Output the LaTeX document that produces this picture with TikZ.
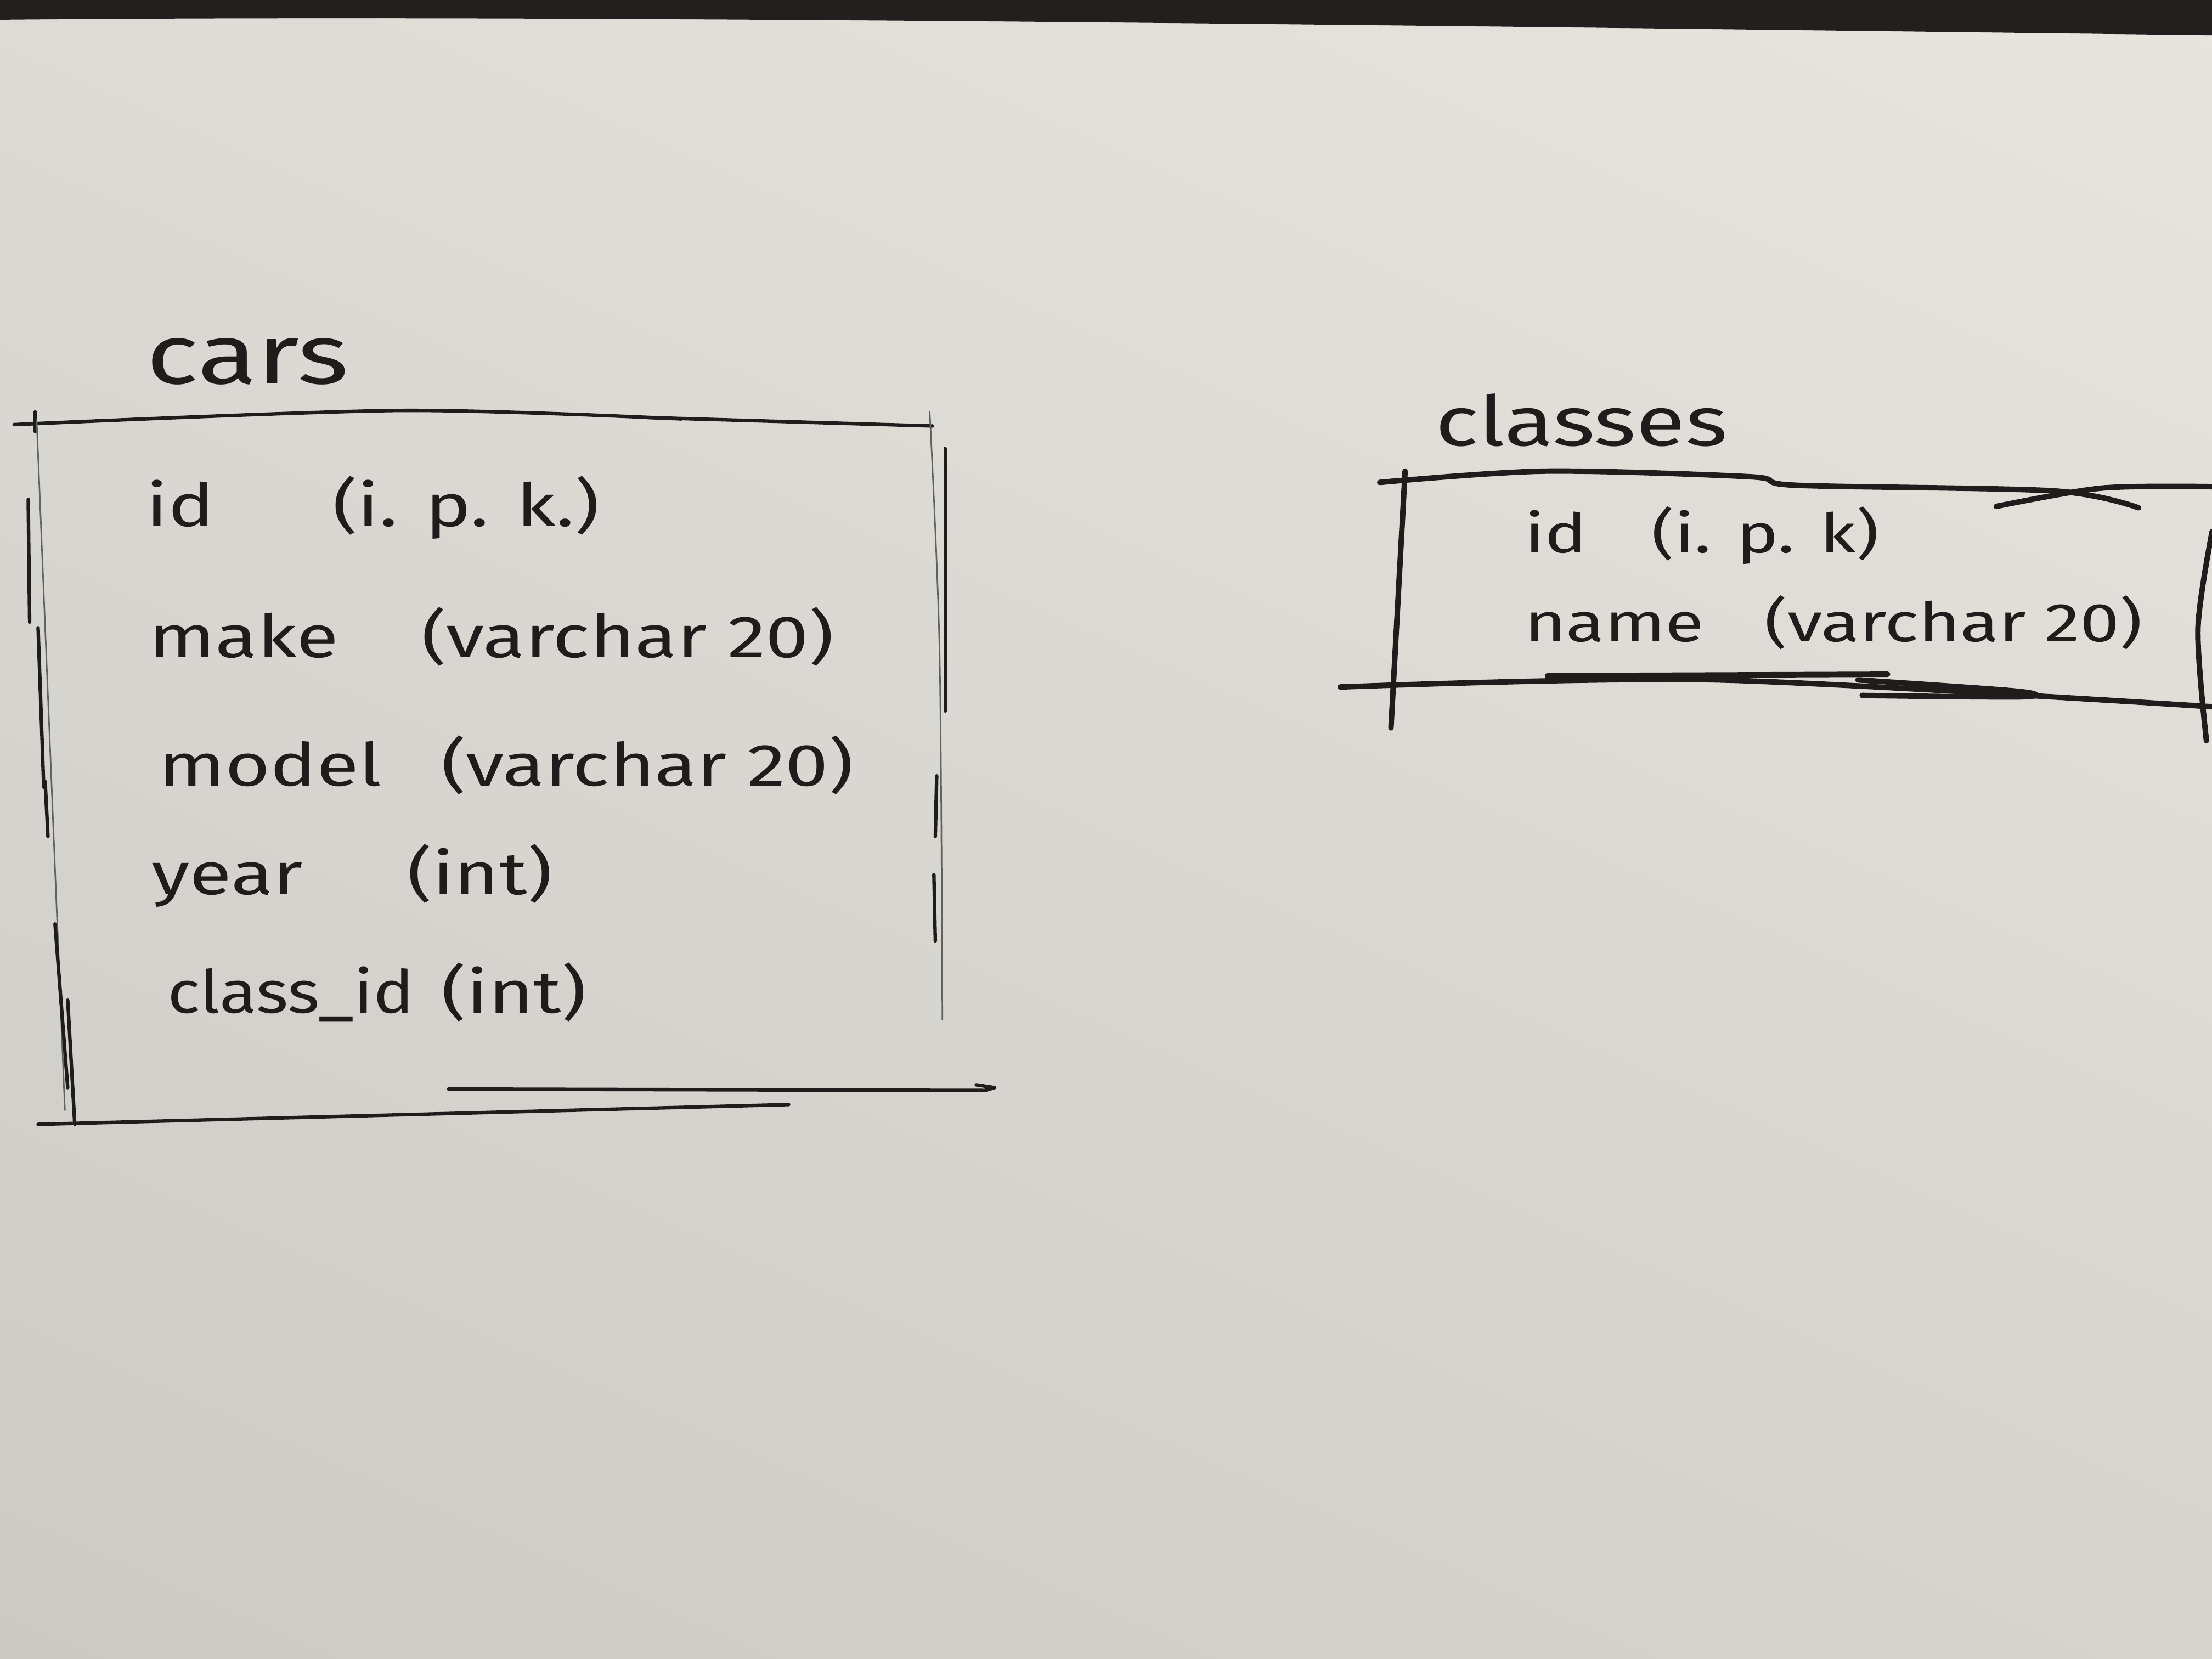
\documentclass[tikz,border=0pt]{standalone}
\usepackage{fontspec}
\newfontfamily\handfont{Fira Sans}[FakeStretch=1.3]
\usetikzlibrary{positioning, shadings}
\definecolor{ink}{RGB}{30,29,28}
\definecolor{paperA}{RGB}{221,219,213}
\definecolor{paperB}{RGB}{231,229,222}
\definecolor{paperC}{RGB}{204,202,196}
\definecolor{paperD}{RGB}{214,212,206}
\definecolor{desk}{RGB}{34,32,31}

\begin{document}
\begin{tikzpicture}[
  title/.style={inner sep=0pt, anchor=base west, text=ink, font=\handfont\fontsize{17}{20}\selectfont},
  field/.style={inner sep=0pt, anchor=base west, text=ink, font=\handfont\fontsize{12}{14}\selectfont},
  smallfield/.style={field, font=\handfont\fontsize{11}{13}\selectfont},
  pen/.style={draw=ink, line width=0.7pt, line cap=round, line join=round},
  faint/.style={draw=ink!70, line width=0.3pt, line cap=round},
  heavy/.style={draw=ink, line width=1.1pt, line cap=round, line join=round}
]
\useasboundingbox (0,0) rectangle (15.68,11.76);
\shade[upper left=paperA, upper right=paperB, lower left=paperC, lower right=paperD]
  (0,0) rectangle (15.68,11.76);
\fill[desk] (0,11.76) -- (15.68,11.76) -- (15.68,11.51)
  .. controls (10,11.58) and (4,11.66) .. (0,11.62) -- cycle;

\node[title] (cars) at (1.03,9.04) {cars};
\node[field] (carsid) at (1.03,8.03) {id};
\node[field] (carsidtype) at ([xshift=13.2mm]carsid.base west) {(i. p. k.)};
\node[field] (make) at (1.05,7.10) {make};
\node[field] (maketype) at ([xshift=19.3mm]make.base west) {(varchar 20)};
\node[field] (model) at (1.12,6.19) {model};
\node[field] (modeltype) at ([xshift=20mm]model.base west) {(varchar 20)};
\node[field] (year) at (1.07,5.42) {year};
\node[field] (yeartype) at ([xshift=18.1mm]year.base west) {(int)};
\node[field, font=\handfont\fontsize{12}{14}\selectfont\addfontfeature{FakeStretch=1.15}] (classid) at (1.18,4.58) {class\_id};
\node[field, right=1.8mm of classid.base east, anchor=base west] (classidtype) {(int)};

\draw[pen] plot[smooth] coordinates {(0.10,8.75) (2.83,8.85) (4.83,8.79)};
\draw[pen] (4.59,8.80) -- (6.61,8.74);
\draw[pen] (0.25,8.84) -- (0.25,8.70);
\draw[faint] (0.26,8.78) -- (0.46,3.89);
\draw[pen] (0.20,8.22) -- (0.21,7.35);
\draw[pen] (0.27,7.31) -- (0.31,6.18);
\draw[pen] (0.32,6.22) -- (0.34,5.83);
\draw[pen] (0.39,5.21) -- (0.48,4.05);
\draw[pen] (0.48,4.67) -- (0.53,3.79);
\draw[faint] plot[smooth] coordinates {(6.59,8.84) (6.66,7.15) (6.68,4.53)};
\draw[pen] (6.70,8.58) -- (6.70,6.72);
\draw[pen] (6.64,6.26) -- (6.63,5.83);
\draw[pen] (6.62,5.56) -- (6.63,5.09);
\draw[pen] (0.27,3.79) -- (5.59,3.93);
\draw[pen] (3.18,4.04) -- (6.98,4.03) -- (7.05,4.05) -- (6.92,4.07);

\node[title, font=\handfont\fontsize{14}{17}\selectfont] (classes) at (10.17,8.60) {classes};
\node[smallfield] (classesid) at (10.80,7.84) {id};
\node[smallfield] (classesidtype) at ([xshift=9mm]classesid.base west) {(i. p. k)};
\node[smallfield] (name) at (10.80,7.21) {name};
\node[smallfield] (nametype) at ([xshift=17mm]name.base west) {(varchar 20)};

\draw[heavy] plot[smooth] coordinates {(9.78,8.34) (10.95,8.42) (12.41,8.38) (12.73,8.32) (14.56,8.28) (15.16,8.16)};
\draw[heavy] plot[smooth] coordinates {(14.15,8.17) (14.90,8.30) (15.68,8.31)};
\draw[heavy] (9.96,8.42) -- (9.86,6.60);
\draw[heavy] plot[smooth] coordinates {(9.50,6.89) (12.17,6.94) (15.68,6.75)};
\draw[heavy] (10.97,6.97) -- (13.38,6.98);
\draw[heavy] plot[smooth] coordinates {(13.17,6.94) (14.30,6.86) (14.33,6.82) (13.20,6.83)};
\draw[heavy] plot[smooth] coordinates {(15.68,7.99) (15.58,7.30) (15.64,6.51)};
\end{tikzpicture}
\end{document}
